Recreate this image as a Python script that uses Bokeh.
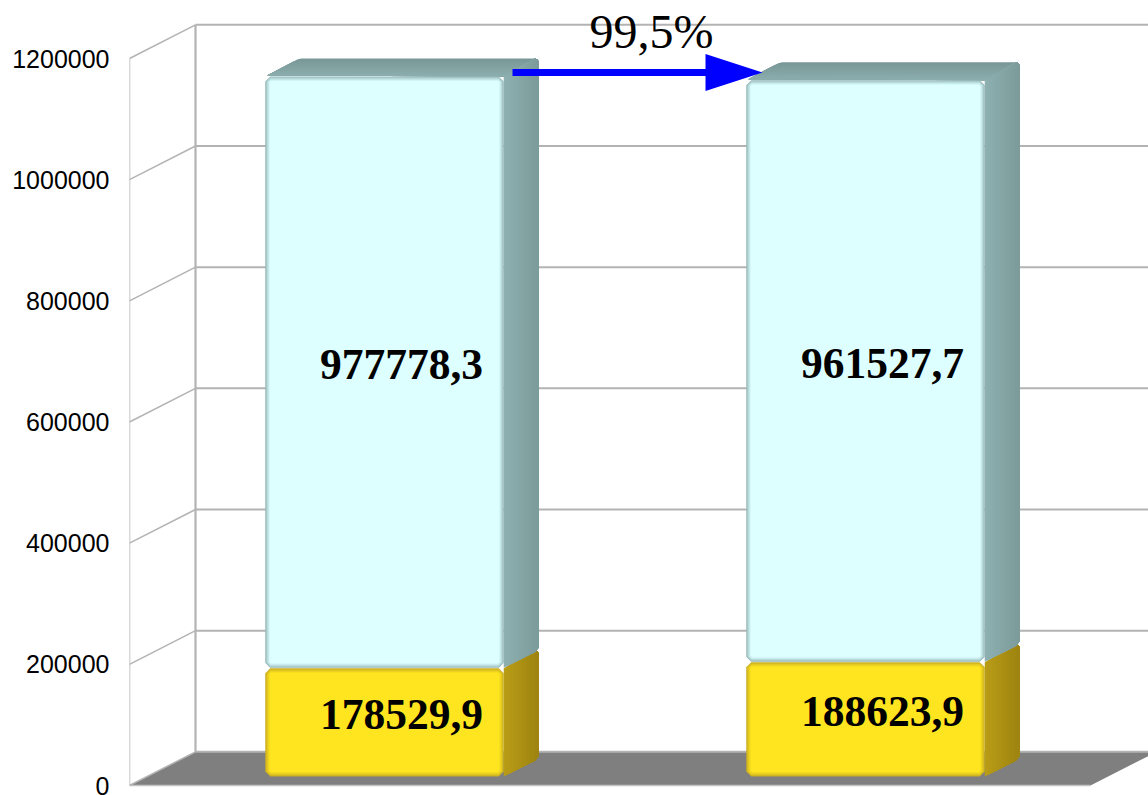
from bokeh.plotting import figure
from bokeh.models import Range1d, FixedTicker, NumeralTickFormatter
from bokeh.core.properties import value
from bokeh.embed import file_html
from bokeh.resources import INLINE

# data
series_blue = [977778.3, 961527.7]
series_yellow = [178529.9, 188623.9]
ticks = [0, 200000, 400000, 600000, 800000, 1000000, 1200000]
ratio_label = "99,5%"

# scales: pixels per unit, used for pseudo-3D offsets
UX = 481
UY = 727 / 1200000
def X(px):
    return px / UX
def Y(px):
    return px / UY

W, H = 1148, 795
LEFT = 129
x_range = Range1d(0, (W - LEFT) / UX)
y_range = Range1d(-Y(10), Y(785))

p = figure(width=W, height=H, x_range=x_range, y_range=y_range,
           output_backend="svg", toolbar_location=None,
           min_border_left=LEFT, min_border_right=0, min_border_top=0, min_border_bottom=0,
           outline_line_color=None, background_fill_color=None, border_fill_color=None)
p.grid.visible = False
p.xaxis.visible = False
ax = p.yaxis[0]
ax.ticker = FixedTicker(ticks=ticks)
ax.formatter = NumeralTickFormatter(format="0")
ax.axis_line_color = None
ax.major_tick_line_color = None
ax.minor_tick_line_color = None
ax.major_tick_in = 0
ax.major_tick_out = 0
ax.major_label_standoff = 20
ax.major_label_text_font = "Liberation Sans"
ax.major_label_text_font_size = "25px"
ax.major_label_text_color = "#000000"

GRID = "#b3b3b3"
DX, DY = X(66), Y(33.7)
END = x_range.end + X(20)

# floor
p.patch([0, DX, END, 2 - X(1) + DX, 2 - X(1)], [0, DY, DY, DY, 0], fill_color="#7f7f7f", line_color=None)
p.line([0, 2 - X(1)], [0, 0], line_color="#c4c4c4", line_width=1.5)

# walls
top = ticks[-1]
p.line([0, 0], [0, top], line_color=GRID, line_width=1.5)
p.line([DX, DX], [DY, top + DY], line_color=GRID, line_width=2.2)
for t in ticks:
    p.line([0, DX], [t, t + DY], line_color=GRID, line_width=1.5)
    p.line([DX, END], [t + DY, t + DY], line_color=GRID, line_width=2)


def lerp(a, b, f):
    ca = [int(a[i:i + 2], 16) for i in (1, 3, 5)]
    cb = [int(b[i:i + 2], 16) for i in (1, 3, 5)]
    return "#%02x%02x%02x" % tuple(round(u + (v - u) * f) for u, v in zip(ca, cb))


polys = []
def add(pts, color):
    polys.append(([q[0] for q in pts], [q[1] for q in pts], color))


def rrect(l, r, b, t, rad):
    cx = [0, 0.29, 0.71, 1]
    pts = []
    a, c = X(rad), Y(rad)
    for f, g in zip(cx, reversed(cx)):
        pts.append((l + a * (1 - g), t - c * (1 - f)))
    for f, g in zip(cx, reversed(cx)):
        pts.append((r - a * (1 - f), t - c * (1 - g)))
    for f, g in zip(cx, reversed(cx)):
        pts.append((r - a * (1 - g), b + c * (1 - f)))
    for f, g in zip(cx, reversed(cx)):
        pts.append((l + a * (1 - f), b + c * (1 - g)))
    return pts


BW = X(238.5)
SHIFT = X(14.5)
BASE = Y(9)
BX, BY = X(35), Y(18)


def segment(i, bottom, top_v, face, edge, side_a, side_b, top_a=None, top_b=None):
    fl = i + 0.5 + SHIFT - BW / 2
    fr = fl + BW
    # top face
    if top_a:
        n = 9
        for k in range(n):
            f = k / n
            yt = top_v + BY * (1 - f)
            x0 = fl + BX * (1 - f)
            add([(fl + X(2), top_v + Y(1)), (x0 - X(3) * (1 - f), yt - Y(1) * (1 - f)),
                 (x0 + X(1), yt), (fr + BX * (1 - f) - X(3), yt), (fr + BX * (1 - f), yt - Y(3) * (1 - f)),
                 (fr, top_v)], lerp(top_a, top_b, f))
    # side face, drawn as nested strips
    n = 14
    for k in range(n):
        f = k / n
        a = BX * f
        rise = BY * f
        c = X(4)
        e = Y(4)
        pts = [(fr + a, bottom + rise), (fr + BX - c, bottom + BY - e * 0.55), (fr + BX, bottom + BY + e * 0.6),
               (fr + BX, top_v + BY - e), (fr + BX - X(1), top_v + BY - Y(1)), (fr + BX - c, top_v + BY),
               (fr + a, top_v + rise)]
        add(pts, lerp(side_a, side_b, f))
    # front face with soft bevel
    m = 6
    for k in range(m):
        f = (k / (m - 1)) ** 0.8
        add(rrect(fl + X(k * 0.9), fr - X(k * 0.9), bottom + Y(k * 0.9), top_v - Y(k * 0.9), max(5 - k * 0.8, 1.5)),
            lerp(edge, face, f))


labels_x, labels_y, labels_t = [], [], []
for i, (vy, vb) in enumerate(zip(series_yellow, series_blue)):
    y0 = BASE
    y1 = BASE + vy
    y2 = y1 + vb - Y(0.5)
    segment(i, y0, y1, "#ffe51f", "#c9ae22", "#b89c17", "#9c820f")
    segment(i, y1 + Y(0.5), y2, "#ddffff", "#96b9b9", "#8eb0b0", "#7b9999", "#7a9797", "#8db0b0")
    cx = i + 0.5 + SHIFT + BX / 2 - X(0.5)
    labels_x += [cx, cx]
    labels_y += [(y0 + y1) / 2 + BY / 2 - Y(1.5), (y1 + y2) / 2 + BY / 2 - Y(1.5)]
    labels_t += [f"{vy}".replace(".", ","), f"{vb}".replace(".", ",")]

p.patches([q[0] for q in polys], [q[1] for q in polys], fill_color=[q[2] for q in polys], line_color=None)

# arrow between the bar tops
ay = Y(713)
ax0, ax1, ax2 = X(383), X(576), X(633)
p.patch([ax0, ax1, ax1, ax2, ax1, ax1, ax0],
        [ay - Y(3.5), ay - Y(3.5), ay - Y(18.5), ay, ay + Y(18.5), ay + Y(3.5), ay + Y(3.5)],
        fill_color="#0000ff", line_color=None)

p.text(x=labels_x, y=labels_y, text=labels_t, text_font=value("Liberation Serif"), text_font_style="bold",
       text_font_size="43.5px", text_color="#000000", text_align="center", text_baseline="middle")
p.text(x=[X(522)], y=[Y(754)], text=[ratio_label], text_font=value("Liberation Serif"),
       text_font_size="48px", text_color="#000000", text_align="center", text_baseline="alphabetic")

open("out.html", "w").write(file_html(p, INLINE))
